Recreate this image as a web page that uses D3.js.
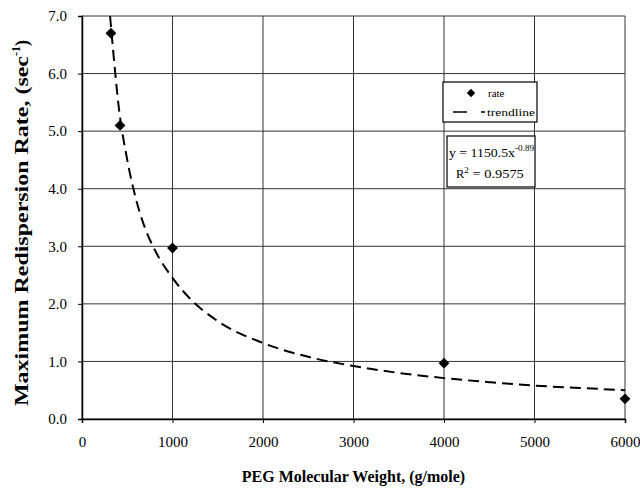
<!DOCTYPE html>
<html>
<head>
<meta charset="utf-8">
<script src="https://cdn.jsdelivr.net/npm/d3@7"></script>
<style>
  body { margin: 0; background: #fff; }
  svg { font-family: "Liberation Serif", "Times New Roman", serif; }
</style>
</head>
<body>
<div id="chart"></div>
<script>
// measured rates
const weights = [320, 420, 1000, 4000, 6000];
const rates = [6.7, 5.1, 2.97, 0.97, 0.35];

// trendline
const trendX = [310, 350, 400, 500, 600, 700, 800, 1000, 1200, 1500, 2000, 2500, 3000, 3500, 4000, 4500, 5000, 5500, 6000];
const trendY = [7.0, 6.3, 5.5, 4.5, 3.8, 3.3, 2.95, 2.45, 2.08, 1.7, 1.32, 1.08, 0.92, 0.8, 0.71, 0.64, 0.58, 0.54, 0.5];

const xTicks = [0, 1000, 2000, 3000, 4000, 5000, 6000];
const yTicks = [0, 1, 2, 3, 4, 5, 6, 7];

const width = 640, height = 490;
const margin = { top: 16, right: 15, bottom: 71, left: 82 };

const svg = d3.select("#chart")
  .append("svg")
  .attr("width", width)
  .attr("height", height);

const x = d3.scaleLinear().domain([0, 6000]).range([margin.left, width - margin.right]);
const y = d3.scaleLinear().domain([0, 7]).range([height - margin.bottom, margin.top]);

// grid
svg.append("g")
  .selectAll("line")
  .data(xTicks)
  .enter()
  .append("line")
  .attr("x1", d => x(d)).attr("x2", d => x(d))
  .attr("y1", y(0)).attr("y2", y(7))
  .attr("stroke", "#333")
  .attr("stroke-width", 1);

svg.append("g")
  .selectAll("line")
  .data(yTicks)
  .enter()
  .append("line")
  .attr("x1", x(0)).attr("x2", x(6000))
  .attr("y1", d => y(d)).attr("y2", d => y(d))
  .attr("stroke", "#333")
  .attr("stroke-width", 1);

// axes
const xAxis = svg.append("g")
  .attr("transform", `translate(0,${y(0)})`)
  .call(d3.axisBottom(x).tickValues(xTicks).tickFormat(d3.format("d")).tickSize(4).tickPadding(13));

const yAxis = svg.append("g")
  .attr("transform", `translate(${x(0)},0)`)
  .call(d3.axisLeft(y).tickValues(yTicks).tickFormat(d3.format(".1f")).tickSize(4).tickPadding(11));

[xAxis, yAxis].forEach(a => {
  a.select(".domain").attr("stroke", "#000").attr("stroke-width", 1.5);
  a.selectAll(".tick line").attr("stroke", "#000");
  a.selectAll("text")
    .attr("fill", "#000")
    .style("font-family", "Liberation Serif")
    .style("font-size", "15px");
});

// axis titles
svg.append("text")
  .attr("x", (x(0) + x(6000)) / 2)
  .attr("y", 482)
  .attr("text-anchor", "middle")
  .style("font-weight", "bold")
  .style("font-size", "16px")
  .text("PEG Molecular Weight, (g/mole)");

const yTitle = svg.append("text")
  .attr("transform", "translate(28,406) rotate(-90)")
  .style("font-weight", "bold")
  .style("font-size", "18px");
yTitle.append("tspan")
  .attr("textLength", 350)
  .attr("lengthAdjust", "spacingAndGlyphs")
  .text("Maximum Redispersion Rate, (sec");
yTitle.append("tspan").attr("dy", -8).style("font-size", "12px").text("-1");
yTitle.append("tspan").attr("dy", 8).text(")");

// trendline
const line = d3.line()
  .x((d, i) => x(trendX[i]))
  .y(d => y(d))
  .curve(d3.curveMonotoneX);

svg.append("path")
  .datum(trendY)
  .attr("d", line)
  .attr("fill", "none")
  .attr("stroke", "#000")
  .attr("stroke-width", 2)
  .attr("stroke-dasharray", "11,6");

// points
const diamond = d3.symbol().type(d3.symbolDiamond2).size(75);
svg.append("g")
  .selectAll("path")
  .data(rates)
  .enter()
  .append("path")
  .attr("d", diamond)
  .attr("transform", (d, i) => `translate(${x(weights[i])},${y(d)})`)
  .attr("fill", "#000");

// legend
const legend = svg.append("g");
legend.append("rect")
  .attr("x", 443).attr("y", 82).attr("width", 94).attr("height", 40)
  .attr("fill", "#fff").attr("stroke", "#000").attr("stroke-width", 1.2);
legend.append("path")
  .attr("d", d3.symbol().type(d3.symbolDiamond2).size(45))
  .attr("transform", "translate(471,93)");
legend.append("text").attr("x", 488).attr("y", 97)
  .style("font-size", "11px")
  .text("rate");
legend.append("line")
  .attr("x1", 453).attr("x2", 485).attr("y1", 112).attr("y2", 112)
  .attr("stroke", "#000").attr("stroke-width", 1.5).attr("stroke-dasharray", "14,14,4");
legend.append("text").attr("x", 487).attr("y", 116)
  .style("font-size", "11px")
  .attr("textLength", 48).attr("lengthAdjust", "spacingAndGlyphs")
  .text("trendline");

// equation box
const eq = svg.append("g");
eq.append("rect")
  .attr("x", 447).attr("y", 136).attr("width", 88).attr("height", 51)
  .attr("fill", "#fff").attr("stroke", "#000").attr("stroke-width", 1.2);
const eq1 = eq.append("text").attr("x", 449).attr("y", 157).style("font-size", "12.5px");
eq1.append("tspan")
  .attr("textLength", 66).attr("lengthAdjust", "spacingAndGlyphs")
  .text("y = 1150.5x");
eq1.append("tspan").attr("dy", -6).style("font-size", "9px")
  .attr("textLength", 19).attr("lengthAdjust", "spacingAndGlyphs")
  .text("-0.89");
const eq2 = eq.append("text").attr("x", 456).attr("y", 178).style("font-size", "12.5px");
eq2.append("tspan").text("R");
eq2.append("tspan").attr("dy", -5).style("font-size", "9px").text("2");
eq2.append("tspan").attr("dy", 5)
  .attr("textLength", 55).attr("lengthAdjust", "spacingAndGlyphs")
  .text(" = 0.9575");
</script>
</body>
</html>
